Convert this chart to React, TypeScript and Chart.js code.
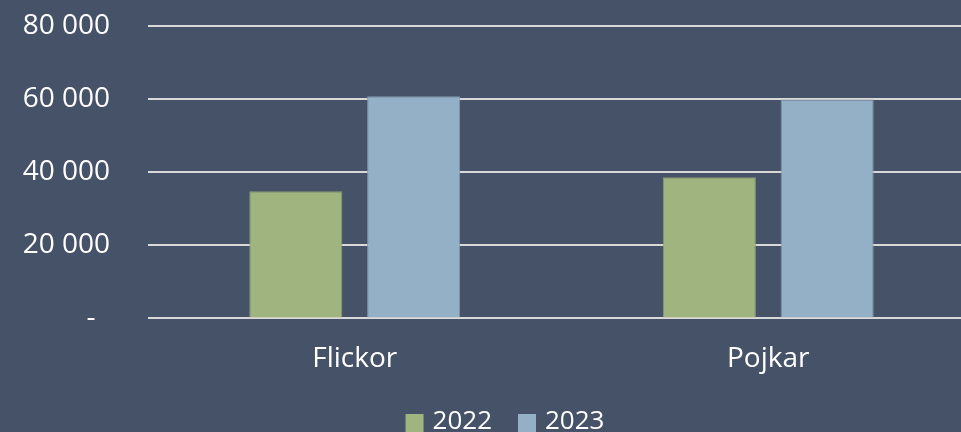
import React, { useEffect, useRef } from "react";
import { Chart, registerables } from "chart.js";

Chart.register(...registerables);

const categories = ["Flickor", "Pojkar"];
const seriesLabels = ["2022", "2023"];
const values2022 = [34800, 38600];
const values2023 = [60800, 59900];
const yMin = 0;
const yMax = 80000;
const yStep = 20000;

const BG = "#465267";
const GREEN = "#9FB47F";
const BLUE = "#93B0C6";
const FONT = "'Open Sans', sans-serif";

function fmt(v: number): string {
  if (v === 0) return "-  ";
  return String(v).replace(/\B(?=(\d{3})+(?!\d))/g, " ");
}

const bgPlugin = {
  id: "bg",
  beforeDraw(chart: any) {
    const ctx = chart.ctx;
    ctx.save();
    ctx.fillStyle = BG;
    ctx.fillRect(0, 0, chart.width, chart.height);
    ctx.restore();
  },
};

const legendPlugin = {
  id: "customLegend",
  afterDraw(chart: any) {
    const ctx = chart.ctx;
    ctx.save();
    ctx.font = `26px ${FONT}`;
    const box = 18;
    const gapBoxText = 9;
    const gapItems = 26;
    const items = chart.data.datasets.map((d: any) => ({
      label: d.label,
      color: d.backgroundColor,
      w: ctx.measureText(d.label).width,
    }));
    let total = 0;
    items.forEach((it: any, i: number) => {
      total += box + gapBoxText + it.w + (i < items.length - 1 ? gapItems : 0);
    });
    let x = 505 - total / 2;
    const baseY = 429;
    items.forEach((it: any) => {
      ctx.fillStyle = it.color;
      ctx.fillRect(x, 414, box, box);
      x += box + gapBoxText;
      ctx.fillStyle = "#ffffff";
      ctx.textBaseline = "alphabetic";
      ctx.textAlign = "left";
      ctx.fillText(it.label, x, baseY);
      x += it.w + gapItems;
    });
    ctx.restore();
  },
};

export default function App() {
  const ref = useRef<HTMLCanvasElement | null>(null);
  useEffect(() => {
    if (!ref.current) return;
    const chart = new Chart(ref.current, {
      type: "bar",
      data: {
        labels: categories,
        datasets: [
          {
            label: seriesLabels[0],
            data: values2022,
            backgroundColor: GREEN,
            borderColor: "#8A9C72",
            borderWidth: 1,
            barPercentage: 0.79,
            categoryPercentage: 0.57,
          },
          {
            label: seriesLabels[1],
            data: values2023,
            backgroundColor: BLUE,
            borderColor: "#8298AA",
            borderWidth: 1,
            barPercentage: 0.79,
            categoryPercentage: 0.57,
          },
        ],
      },
      options: {
        responsive: false,
        animation: false,
        devicePixelRatio: 1,
        layout: { padding: { left: 0, top: 26, right: 0, bottom: 40 } },
        plugins: {
          legend: { display: false },
          tooltip: { enabled: false },
        },
        scales: {
          x: {
            grid: { display: false },
            border: { display: false },
            ticks: {
              color: "#ffffff",
              font: { family: FONT, size: 28 },
              padding: 16,
            },
          },
          y: {
            min: yMin,
            max: yMax,
            border: { display: false },
            grid: { color: "#D9D9D9", lineWidth: 2, drawTicks: false },
            ticks: {
              stepSize: yStep,
              color: "#ffffff",
              font: { family: FONT, size: 28 },
              padding: 38,
              callback: (v: any) => fmt(Number(v)),
            },
            afterFit: (scale: any) => {
              scale.width = 148;
              scale.paddingTop = 0;
              scale.paddingBottom = 0;
            },
          },
        },
      },
      plugins: [bgPlugin, legendPlugin],
    });
    return () => chart.destroy();
  }, []);
  return (
    <div
      style={{
        position: "absolute",
        left: 0,
        top: 0,
        width: 961,
        height: 432,
        overflow: "hidden",
        background: BG,
      }}
    >
      <canvas ref={ref} width={975} height={432} style={{ display: "block" }} />
    </div>
  );
}
